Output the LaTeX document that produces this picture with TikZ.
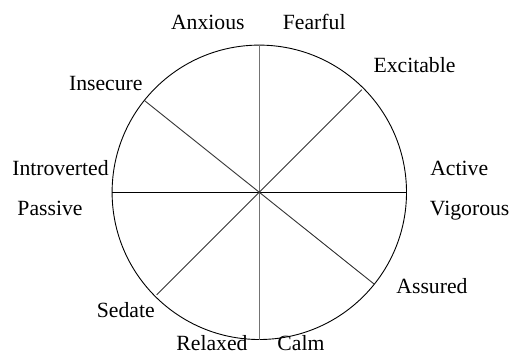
\documentclass[tikz,border=0pt]{standalone}
\usepackage{fontspec}
\setmainfont{Liberation Serif}
\tikzset{
  lbl/.style={anchor=base, inner sep=0pt, font=\fontsize{21.7}{24}\selectfont},
  spoke/.style={line width=0.9pt, black!80},
  vspoke/.style={line width=1.1pt, black!55},
}
\begin{document}
\begin{tikzpicture}[x=1pt,y=-1pt]
\useasboundingbox (0,0) rectangle (513,354);
\coordinate (c) at (259.3,192.3);
\draw[line width=0.9pt] (c) circle[radius=147.2];
\path (c) ++(0,-147.2) coordinate (top) (c) ++(0,147.2) coordinate (bot)
      (c) ++(-147.2,0) coordinate (lft) (c) ++(147.2,0) coordinate (rgt)
      (c) ++(102.5,-102.5) coordinate (ne) (c) ++(-102.5,102.5) coordinate (sw)
      (c) ++(-114.5,-91.5) coordinate (nw) (c) ++(114.5,91.5) coordinate (se);
\draw[vspoke] (top) -- (bot);
\draw[line width=0.9pt] (lft) -- (rgt);
\draw[spoke] (ne) -- (sw);
\draw[spoke] (nw) -- (se);
\node[lbl] (anx) at (207.8,29.3) {Anxious};
\node[lbl] (fea) at (314.2,29.3) {Fearful};
\node[lbl] (exc) at (414.5,72.7) {Excitable};
\node[lbl] (ins) at (105.8,90.7) {Insecure};
\node[lbl] (int) at (60.5,175) {Introverted};
\node[lbl] (pas) at (50,215) {Passive};
\node[lbl] (act) at (459.2,175) {Active};
\node[lbl] (vig) at (469.7,215) {Vigorous};
\node[lbl] (ass) at (432,293.3) {Assured};
\node[lbl] (sed) at (125.8,317.7) {Sedate};
\node[lbl] (rel) at (212,350) {Relaxed};
\node[lbl] (cal) at (301,350) {Calm};
\end{tikzpicture}
\end{document}
